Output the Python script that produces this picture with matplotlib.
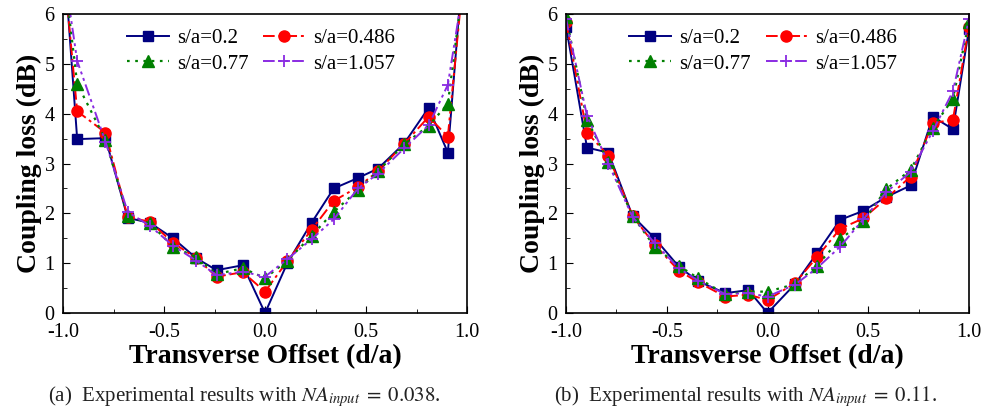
import matplotlib
matplotlib.use("Agg")
import matplotlib.pyplot as plt
from matplotlib.ticker import MultipleLocator

plt.rcParams['font.family'] = ['Liberation Serif', 'DejaVu Serif']
plt.rcParams['mathtext.fontset'] = 'stix'

labels = ['s/a=0.2', 's/a=0.486', 's/a=0.77', 's/a=1.057']

# Panel (a): NA_input = 0.038
xa = [-1.0, -0.93, -0.79, -0.68, -0.57, -0.455, -0.34, -0.24, -0.11, 0.0,
      0.11, 0.23, 0.34, 0.46, 0.56, 0.69, 0.81, 0.905, 1.0]
a_02 = [7.4, 3.49, 3.51, 1.91, 1.81, 1.50, 1.10, 0.86, 0.96, 0.00,
        1.00, 1.81, 2.50, 2.71, 2.90, 3.41, 4.12, 3.22, 8.0]
a_0486 = [7.1, 4.05, 3.62, 1.93, 1.83, 1.41, 1.10, 0.73, 0.82, 0.43,
          1.04, 1.67, 2.25, 2.53, 2.85, 3.40, 3.94, 3.54, 7.5]
a_077 = [7.0, 4.60, 3.48, 1.95, 1.80, 1.33, 1.12, 0.78, 0.90, 0.70,
         1.05, 1.55, 2.03, 2.47, 2.85, 3.39, 3.76, 4.20, 7.2]
a_1057 = [7.0, 5.06, 3.44, 2.03, 1.75, 1.35, 1.05, 0.76, 0.83, 0.73,
          1.08, 1.48, 1.88, 2.50, 2.80, 3.31, 3.77, 4.58, 7.0]

# Panel (b): NA_input = 0.11
xb = [-1.0, -0.896, -0.79, -0.67, -0.56, -0.44, -0.345, -0.21, -0.095, 0.0,
      0.136, 0.245, 0.36, 0.475, 0.59, 0.71, 0.82, 0.92, 1.0]
b_02 = [5.75, 3.32, 3.22, 1.95, 1.50, 0.93, 0.64, 0.40, 0.46, 0.00,
        0.58, 1.20, 1.87, 2.05, 2.33, 2.56, 3.94, 3.69, 5.70]
b_0486 = [5.85, 3.62, 3.16, 1.95, 1.37, 0.85, 0.62, 0.33, 0.37, 0.26,
          0.60, 1.12, 1.69, 1.90, 2.30, 2.74, 3.81, 3.88, 5.75]
b_077 = [5.95, 3.88, 3.04, 1.95, 1.33, 0.95, 0.70, 0.38, 0.43, 0.43,
         0.58, 0.95, 1.48, 1.84, 2.49, 2.87, 3.72, 4.30, 5.85]
b_1057 = [5.90, 3.96, 3.00, 1.93, 1.40, 0.90, 0.65, 0.38, 0.40, 0.33,
          0.57, 0.90, 1.33, 1.88, 2.43, 2.83, 3.65, 4.45, 5.90]

captions = [r'(a)  Experimental results with $NA_{input}\;=\;0.038$.',
            r'(b)  Experimental results with $NA_{input}\;=\;0.11$.']

styles = [
    dict(color='#000080', linestyle='-', marker='s', markersize=7, lw=1.4),
    dict(color='#ff0000', linestyle=(0, (6, 2, 1.5, 2)), marker='o', markersize=8, lw=1.4),
    dict(color='#008000', linestyle=(0, (1.2, 2.5)), marker='^', markersize=8, lw=1.6),
    dict(color='#8a2be2', linestyle=(0, (6, 2, 1.5, 2, 1.5, 2)), marker='+', markersize=9,
         markeredgewidth=1.3, lw=1.4),
]

fig = plt.figure(figsize=(9.82, 4.13), dpi=100)
axes = [fig.add_axes([0.0642, 0.242, 0.4114, 0.724]),
        fig.add_axes([0.5764, 0.242, 0.4104, 0.724])]

panels = [(xa, [a_02, a_0486, a_077, a_1057]), (xb, [b_02, b_0486, b_077, b_1057])]
cap_x = [0.249, 0.759]

for ax, (xs, ys), cap, cx in zip(axes, panels, captions, cap_x):
    lines = []
    for y, st, lab in zip(ys, styles, labels):
        ln, = ax.plot(xs, y, label=lab, **st)
        lines.append(ln)
    ax.set_xlim(-1.0, 1.0)
    ax.set_ylim(0, 6)
    ax.xaxis.set_major_locator(MultipleLocator(0.5))
    ax.xaxis.set_minor_locator(MultipleLocator(0.25))
    ax.yaxis.set_major_locator(MultipleLocator(1))
    ax.yaxis.set_minor_locator(MultipleLocator(0.5))
    ax.xaxis.set_major_formatter(plt.FuncFormatter(lambda v, p: f'{v:.1f}'))
    ax.yaxis.set_major_formatter(plt.FuncFormatter(lambda v, p: f'{v:.0f}'))
    ax.tick_params(which='both', direction='in', labelsize=14.5, top=False, right=False)
    ax.tick_params(which='major', length=5)
    ax.tick_params(which='minor', length=3)
    ax.tick_params(axis='x', which='major', pad=7)
    ax.tick_params(axis='y', which='major', pad=6)
    for s in ax.spines.values():
        s.set_linewidth(1.2)
    ax.set_xlabel('Transverse Offset (d/a)', fontsize=20, fontweight='bold', labelpad=2)
    ax.set_ylabel('Coupling loss (dB)', fontsize=20, fontweight='bold', labelpad=2)
    order = [0, 2, 1, 3]
    ax.legend([lines[i] for i in order], [labels[i] for i in order],
              ncol=2, loc='upper center', bbox_to_anchor=(0.49, 1.015), frameon=False,
              fontsize=15, handlelength=2.0, columnspacing=0.7, handletextpad=0.4,
              labelspacing=0.3)
    fig.text(cx, 0.04, cap, ha='center', va='center', fontsize=15, color='#222222')

fig.savefig('out.png', dpi=100)
